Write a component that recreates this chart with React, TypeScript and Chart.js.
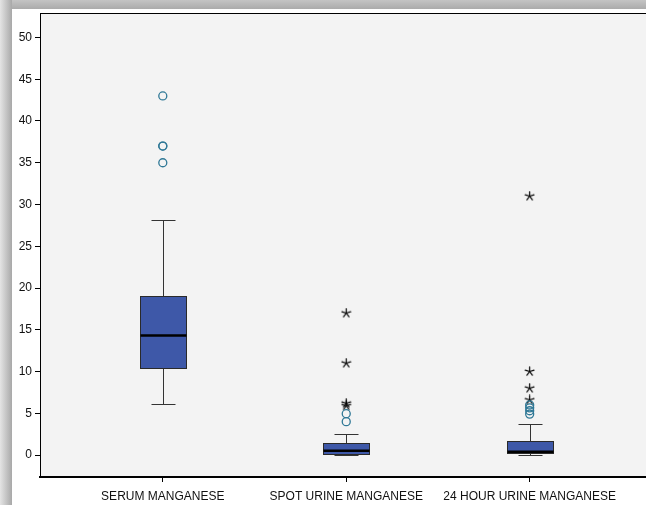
import React, { useEffect, useRef } from "react";
import { Chart, registerables } from "chart.js";

Chart.register(...registerables);

const categories = ["SERUM MANGANESE", "SPOT URINE MANGANESE", "24 HOUR URINE MANGANESE"];
const whiskerLow = [6.1, 0.02, 0.02];
const q1 = [10.4, 0.1, 0.2];
const median = [14.3, 0.5, 0.38];
const q3 = [19.0, 1.45, 1.67];
const whiskerHigh = [28.1, 2.55, 3.75];
const outliers = [[43, 37, 37, 35], [4.0, 4.95], [4.9, 5.3, 5.65, 6.0]];
const extremes = [[], [17.0, 11.0, 6.2, 5.9], [31.0, 10.0, 8.0, 6.6]];
const yTicks = [0, 5, 10, 15, 20, 25, 30, 35, 40, 45, 50];

const FONT = { family: "'Liberation Sans', Arial, sans-serif", size: 12 };

function makeStar(): HTMLCanvasElement {
  const c = document.createElement("canvas");
  c.width = 11;
  c.height = 11;
  const g = c.getContext("2d")!;
  g.strokeStyle = "#000";
  g.lineWidth = 1.2;
  g.lineCap = "round";
  const cx = 5.5, cy = 5.5, r = 4.6;
  for (let k = 0; k < 5; k++) {
    const ang = (-90 + k * 72) * Math.PI / 180;
    g.beginPath();
    g.moveTo(cx, cy);
    g.lineTo(cx + r * Math.cos(ang), cy + r * Math.sin(ang));
    g.stroke();
  }
  return c;
}

const boxPlugin = {
  id: "spssBoxes",
  beforeDraw(chart: any) {
    const { ctx, chartArea: a, width, height } = chart;
    ctx.save();
    ctx.fillStyle = "#ffffff";
    ctx.fillRect(0, 0, width, height);
    let g = ctx.createLinearGradient(0, 0, 0, 9);
    g.addColorStop(0, "#c4c4c4");
    g.addColorStop(1, "#ababab");
    ctx.fillStyle = g;
    ctx.fillRect(0, 0, width, 9);
    g = ctx.createLinearGradient(0, 0, 12, 0);
    g.addColorStop(0, "#e4e4e4");
    g.addColorStop(1, "#a8a8a8");
    ctx.fillStyle = g;
    ctx.fillRect(0, 0, 12, height);
    ctx.fillStyle = "#f3f3f3";
    ctx.fillRect(a.left, a.top, width - a.left, a.bottom - a.top);
    ctx.strokeStyle = "#000";
    ctx.lineWidth = 1;
    ctx.beginPath();
    ctx.moveTo(a.left, Math.round(a.top) + 0.5);
    ctx.lineTo(width, Math.round(a.top) + 0.5);
    ctx.stroke();
    ctx.restore();
  },
  beforeDatasetsDraw(chart: any) {
    const { ctx, chartArea: a, width } = chart;
    const xs = chart.scales.x;
    const ys = chart.scales.y;
    ctx.save();
    // extend the bottom axis line to the right edge
    ctx.strokeStyle = "#000";
    ctx.lineWidth = 2;
    ctx.beginPath();
    ctx.moveTo(a.right - 1, a.bottom);
    ctx.lineTo(width, a.bottom);
    ctx.stroke();
    categories.forEach((_, i) => {
      const xc = Math.round(xs.getPixelForValue(i + 1)) + 0.5;
      const half = Math.round(Math.abs(xs.getPixelForValue(i + 1 + 0.125) - xs.getPixelForValue(i + 1)));
      const capHalf = Math.round(half / 2);
      const yLo = Math.round(ys.getPixelForValue(whiskerLow[i])) + 0.5;
      const yHi = Math.round(ys.getPixelForValue(whiskerHigh[i])) + 0.5;
      const yQ1 = Math.round(ys.getPixelForValue(q1[i])) + 0.5;
      const yQ3 = Math.round(ys.getPixelForValue(q3[i])) + 0.5;
      const yMed = ys.getPixelForValue(median[i]);
      ctx.strokeStyle = "#333";
      ctx.lineWidth = 1;
      ctx.beginPath();
      ctx.moveTo(xc, yHi);
      ctx.lineTo(xc, yQ3);
      ctx.moveTo(xc, yQ1);
      ctx.lineTo(xc, yLo);
      ctx.moveTo(xc - capHalf, yHi);
      ctx.lineTo(xc + capHalf, yHi);
      ctx.moveTo(xc - capHalf, yLo);
      ctx.lineTo(xc + capHalf, yLo);
      ctx.stroke();
      ctx.fillStyle = "#3e58a8";
      ctx.fillRect(xc - half, yQ3, 2 * half, yQ1 - yQ3);
      ctx.strokeStyle = "#2a2a2a";
      ctx.strokeRect(xc - half, yQ3, 2 * half, yQ1 - yQ3);
      ctx.strokeStyle = "#000";
      ctx.lineWidth = 2.5;
      ctx.beginPath();
      ctx.moveTo(xc - half, yMed);
      ctx.lineTo(xc + half, yMed);
      ctx.stroke();
      ctx.lineWidth = 1;
    });
    ctx.restore();
  },
};

export default function App() {
  const ref = useRef<HTMLCanvasElement | null>(null);
  useEffect(() => {
    document.body.style.margin = "0";
    const star = makeStar();
    const circleData = outliers.flatMap((arr, i) => arr.map((v) => ({ x: i + 1, y: v })));
    const starData = extremes.flatMap((arr, i) => arr.map((v) => ({ x: i + 1, y: v })));
    const chart = new Chart(ref.current!, {
      type: "scatter",
      data: {
        datasets: [
          {
            data: circleData,
            pointStyle: "circle",
            pointRadius: 4,
            borderColor: "#2f7896",
            backgroundColor: "rgba(0,0,0,0)",
            borderWidth: 1.3,
          },
          {
            data: starData,
            pointStyle: star as any,
            pointRadius: 5,
          },
        ],
      },
      options: {
        animation: false,
        responsive: false,
        layout: { padding: { top: 13, left: 0, right: 0, bottom: 0 } },
        plugins: { legend: { display: false }, tooltip: { enabled: false } },
        scales: {
          x: {
            type: "linear",
            min: 0.3306,
            max: 3.6014,
            afterBuildTicks: (s: any) => {
              s.ticks = [1, 2, 3].map((v) => ({ value: v }));
            },
            ticks: {
              callback: (_v: any, i: number) => categories[i],
              font: FONT,
              color: "#111",
              padding: 7,
              maxRotation: 0,
              autoSkip: false,
            },
            grid: { display: true, drawOnChartArea: false, tickLength: 5, color: "#000" },
            border: { display: true, color: "#000", width: 2 },
            afterFit: (s: any) => {
              s.height = 28;
            },
          },
          y: {
            type: "linear",
            min: -2.63,
            max: 52.93,
            afterBuildTicks: (s: any) => {
              s.ticks = yTicks.map((v) => ({ value: v }));
            },
            ticks: { font: FONT, color: "#111", padding: 3 },
            grid: { display: true, drawOnChartArea: false, tickLength: 5, color: "#000" },
            border: { display: true, color: "#000", width: 1 },
            afterFit: (s: any) => {
              s.width = 40;
            },
          },
        },
      } as any,
      plugins: [boxPlugin],
    });
    return () => chart.destroy();
  }, []);
  return (
    <div style={{ position: "fixed", left: 0, top: 0, width: 646, height: 505 }}>
      <canvas ref={ref} width={646} height={505} style={{ width: 646, height: 505, display: "block" }} />
    </div>
  );
}
